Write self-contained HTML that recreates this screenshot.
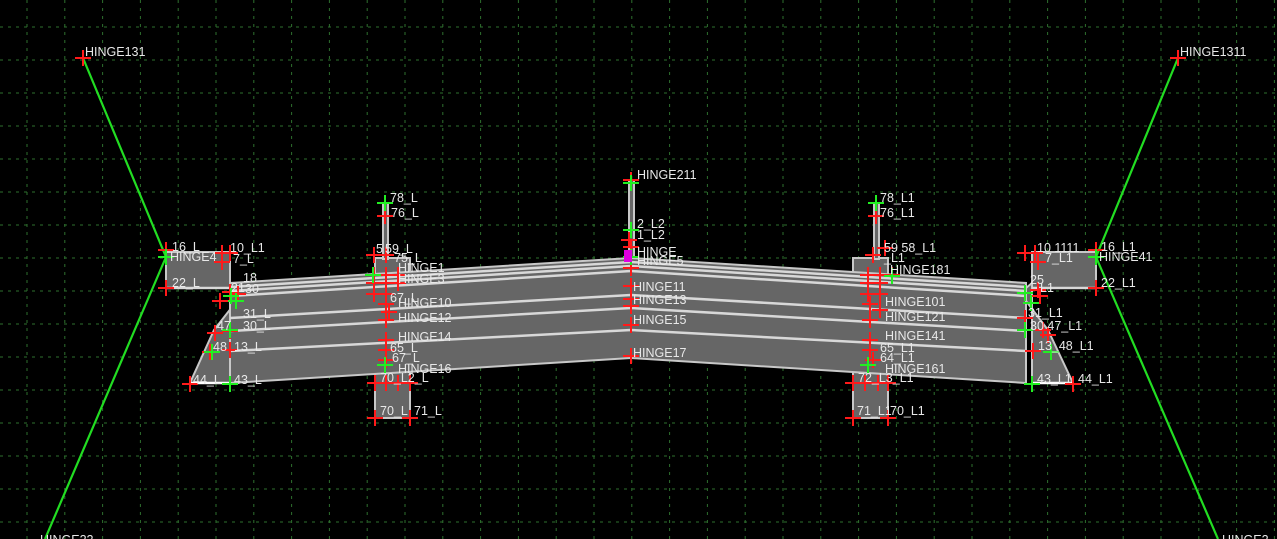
<!DOCTYPE html>
<html><head><meta charset="utf-8"><style>
html,body{margin:0;padding:0;background:#000;}
svg{display:block;}
text{font-family:"Liberation Sans",sans-serif;font-size:12.5px;fill:#e8e8e8;}
</style></head><body>
<svg width="1277" height="539" viewBox="0 0 1277 539" xmlns="http://www.w3.org/2000/svg">
<g stroke="#3a8c3a" stroke-width="1" stroke-dasharray="3,5" opacity="0.8">
<path d="M27 0V539M64.8 0V539M102.6 0V539M140.4 0V539M178.2 0V539M216 0V539M253.8 0V539M291.6 0V539M329.4 0V539M367.2 0V539M405 0V539M442.8 0V539M480.6 0V539M518.4 0V539M556.2 0V539M594 0V539M631.8 0V539M669.6 0V539M707.4 0V539M745.2 0V539M783 0V539M820.8 0V539M858.6 0V539M896.4 0V539M934.2 0V539M972 0V539M1009.8 0V539M1047.6 0V539M1085.4 0V539M1123.2 0V539M1161 0V539M1198.8 0V539M1236.6 0V539M1274.4 0V539"/>
<path d="M0 27H1277M0 60H1277M0 93H1277M0 126H1277M0 159H1277M0 192H1277M0 225H1277M0 258H1277M0 291H1277M0 324H1277M0 357H1277M0 390H1277M0 423H1277M0 456H1277M0 489H1277M0 522H1277"/>
</g>
<g stroke="#22dd22" stroke-width="2.2" fill="none">
<path d="M83 58L166 257L45 539"/>
<path d="M1178 58L1096 257L1218 539"/>
</g>
<g fill="#666" stroke="#c8c8c8" stroke-width="2">
<rect x="375" y="258" width="35" height="160"/>
<rect x="853" y="258" width="35" height="160"/>
<rect x="383" y="203" width="5" height="56"/>
<rect x="629" y="180" width="5" height="80"/>
<rect x="874" y="203" width="5" height="56"/>
<polygon points="166,252 230,252 230,288 166,288"/>
<polygon points="1032,252 1096,252 1096,288 1032,288"/>
<polygon points="230,283 243,293 214,330 190,383 230,383"/>
<polygon points="1032,283 1020,293 1048,330 1073,383 1032,383"/>
<polygon points="230,283 631,258 1026,283 1026,383 631,358 230,383"/>
</g>
<g stroke="#d8d8d8" stroke-width="2.5" fill="none">
<path d="M230 287L631 262L1026 287"/>
<path d="M230 291L631 266L1026 291"/>
<path d="M230 296L631 271L1026 296"/>
<path d="M230 318L631 295L1026 318"/>
<path d="M230 331L631 308L1026 331"/>
<path d="M230 351L631 330L1026 351"/>
<path d="M166 288L230 288M1032 288L1096 288"/>
<path d="M190 383L230 383M1032 383L1073 383" stroke="#fff"/>
</g>
<path stroke="#ff1a1a" stroke-width="2" fill="none" d="
M75 58h16M83 50v16 M1170 58h16M1178 50v16
M158 250h16M166 242v16 M158 288h16M166 280v16
M214 253h16M222 245v16 M222 253h16M230 245v16 M214 262h16M222 254v16
M222 292h16M230 284v16 M212 301h16M220 293v16 M230 294h16M238 286v16
M222 331h16M230 323v16 M207 333h16M215 325v16 M202 352h16M210 344v16 M222 350h16M230 342v16 M182 384h16M190 376v16
M366 255h16M374 247v16 M378 255h16M386 247v16 M377 216h16M385 208v16
M366 275h16M374 267v16 M378 275h16M386 267v16 M390 275h16M398 267v16 M366 283h16M374 275v16 M378 283h16M386 275v16 M390 283h16M398 275v16
M366 294h16M374 286v16 M378 294h16M386 286v16 M378 304h16M386 296v16 M381 312h16M389 304v16 M378 320h16M386 312v16 M378 340h16M386 332v16 M378 350h16M386 342v16 M378 360h16M386 352v16
M367 383h16M375 375v16 M378 383h16M386 375v16 M390 383h16M398 375v16 M402 383h16M410 375v16 M367 418h16M375 410v16 M402 418h16M410 410v16
M623 180h16M631 172v16 M621 240h16M629 232v16 M623 247h16M631 239v16 M623 268h16M631 260v16 M623 286h16M631 278v16 M623 299h16M631 291v16 M623 306h16M631 298v16 M623 325h16M631 317v16 M623 356h16M631 348v16
M868 203h16M876 195v16 M868 216h16M876 208v16
M865 255h16M873 247v16 M877 248h16M885 240v16 M860 275h16M868 267v16 M872 275h16M880 267v16 M884 275h16M892 267v16 M860 283h16M868 275v16 M872 283h16M880 275v16 M860 294h16M868 286v16 M872 294h16M880 286v16
M862 304h16M870 296v16 M872 310h16M880 302v16 M862 320h16M870 312v16 M862 340h16M870 332v16 M862 350h16M870 342v16 M865 360h16M873 352v16
M845 383h16M853 375v16 M857 383h16M865 375v16 M870 383h16M878 375v16 M880 383h16M888 375v16 M845 418h16M853 410v16 M880 418h16M888 410v16
M1017 253h16M1025 245v16 M1027 253h16M1035 245v16 M1030 262h16M1038 254v16 M1088 250h16M1096 242v16 M1088 288h16M1096 280v16
M1017 293h16M1025 285v16 M1030 290h16M1038 282v16 M1032 296h16M1040 288v16 M1017 318h16M1025 310v16 M1035 330h16M1043 322v16 M1040 335h16M1048 327v16 M1025 351h16M1033 343v16 M1065 384h16M1073 376v16"/>
<path stroke="#22ee22" stroke-width="2" fill="none" d="
M158 257h16M166 249v16 M377 203h16M385 195v16 M365 275h16M373 267v16 M223 296h16M231 288v16 M228 301h16M236 293v16 M222 330h16M230 322v16 M204 352h16M212 344v16 M222 384h16M230 376v16 M377 365h16M385 357v16
M623 183h16M631 175v16 M623 230h16M631 222v16 M623 257h16M631 249v16
M868 203h16M876 195v16 M884 276h16M892 268v16 M860 365h16M868 357v16
M1088 257h16M1096 249v16 M1017 293h16M1025 285v16 M1023 303h16M1031 295v16 M1017 330h16M1025 322v16 M1043 352h16M1051 344v16 M1024 384h16M1032 376v16"/>
<rect x="624" y="250" width="8" height="12" fill="#e000e0"/>
<text x="85" y="56">HINGE131</text>
<text x="1180" y="56">HINGE1311</text>
<text x="40" y="544">HINGE22</text>
<text x="1222" y="544">HINGE2</text>
<text x="172" y="251">16_L</text>
<text x="170" y="261">HINGE4</text>
<text x="172" y="287">22_L</text>
<text x="230" y="252">10_L1</text>
<text x="233" y="263">7_L</text>
<text x="243" y="282">18</text>
<text x="231" y="292">21</text>
<text x="245" y="293">30</text>
<text x="243" y="318">31_L</text>
<text x="217" y="330">47</text>
<text x="243" y="330">30_L</text>
<text x="213" y="351">48</text>
<text x="234" y="351">13_L</text>
<text x="193" y="384">44_L</text>
<text x="234" y="384">43_L</text>
<text x="390" y="202">78_L</text>
<text x="391" y="217">76_L</text>
<text x="376" y="253">5</text>
<text x="385" y="253">59_L</text>
<text x="394" y="262">75_L</text>
<text x="398" y="272">HINGE1</text>
<text x="398" y="283">HINGE3</text>
<text x="390" y="302">67_L</text>
<text x="398" y="307">HINGE10</text>
<text x="398" y="322">HINGE12</text>
<text x="398" y="341">HINGE14</text>
<text x="390" y="352">65_L</text>
<text x="392" y="362">67_L</text>
<text x="398" y="373">HINGE16</text>
<text x="380" y="382">70_L2_L</text>
<text x="380" y="415">70_L</text>
<text x="414" y="415">71_L</text>
<text x="637" y="179">HINGE211</text>
<text x="637" y="228">2_L2</text>
<text x="637" y="239">1_L2</text>
<text x="637" y="256">HINGE</text>
<text x="637" y="265">HINGE5</text>
<text x="633" y="291">HINGE11</text>
<text x="633" y="304">HINGE13</text>
<text x="633" y="324">HINGE15</text>
<text x="633" y="357">HINGE17</text>
<text x="880" y="202">78_L1</text>
<text x="880" y="217">76_L1</text>
<text x="884" y="252">59 58_L1</text>
<text x="884" y="262">_L1</text>
<text x="890" y="274">HINGE181</text>
<text x="885" y="306">HINGE101</text>
<text x="885" y="321">HINGE121</text>
<text x="885" y="340">HINGE141</text>
<text x="880" y="352">65_L1</text>
<text x="880" y="362">64_L1</text>
<text x="885" y="373">HINGE161</text>
<text x="858" y="382">72_L3_L1</text>
<text x="857" y="415">71_L1</text>
<text x="890" y="415">70_L1</text>
<text x="1037" y="252">10 1111</text>
<text x="1045" y="262">7_L1</text>
<text x="1101" y="251">16_L1</text>
<text x="1099" y="261">HINGE41</text>
<text x="1101" y="287">22_L1</text>
<text x="1030" y="284">25</text>
<text x="1040" y="292">L1</text>
<text x="1028" y="317">31_L1</text>
<text x="1030" y="330">30 47_L1</text>
<text x="1038" y="350">13_48_L1</text>
<text x="1037" y="383">43_L1</text>
<text x="1078" y="383">44_L1</text>
</svg>
</body></html>
